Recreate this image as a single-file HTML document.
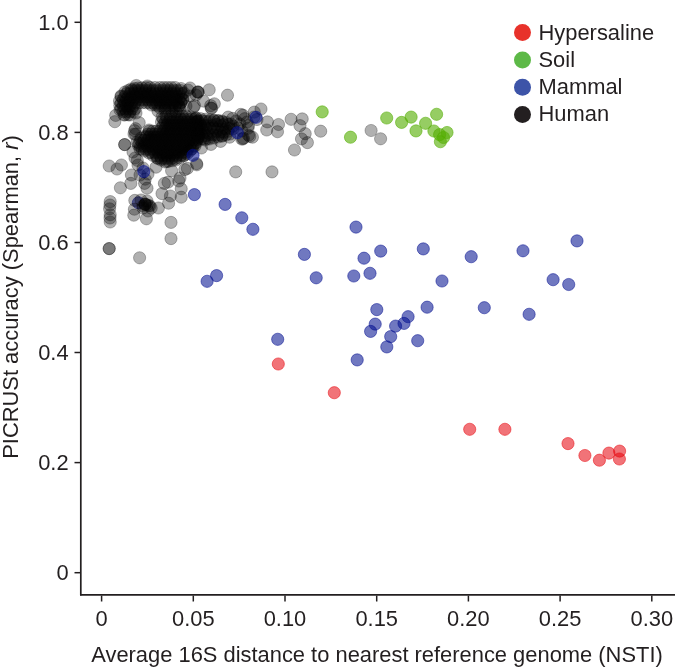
<!DOCTYPE html>
<html><head><meta charset="utf-8"><style>
html,body{margin:0;padding:0;background:#fff;}
svg{display:block;will-change:transform;}
.t{font-family:"Liberation Sans",sans-serif;font-size:21.9px;fill:#231f20;opacity:0.999;}
</style></head><body>
<svg width="675" height="667" viewBox="0 0 675 667">
<g fill="#000e8f" fill-opacity="0.56" stroke="#000e8f" stroke-opacity="0.56" stroke-width="0.9"><circle cx="138.4" cy="202.8" r="6.1"/></g><g fill="#000" fill-opacity="0.31" stroke="#000" stroke-opacity="0.31" stroke-width="0.9"><circle cx="139.6" cy="257.8" r="6.1"/><circle cx="109.2" cy="248.6" r="6.1"/><circle cx="109.2" cy="248.6" r="6.1"/><circle cx="171.0" cy="222.4" r="6.1"/><circle cx="171.0" cy="238.6" r="6.1"/><circle cx="110.2" cy="201.6" r="6.1"/><circle cx="109.6" cy="208.8" r="6.1"/><circle cx="110.2" cy="214.8" r="6.1"/><circle cx="110.2" cy="222.0" r="6.1"/><circle cx="110.0" cy="205.0" r="6.1"/><circle cx="110.0" cy="218.0" r="6.1"/><circle cx="109.2" cy="166.0" r="6.1"/><circle cx="121.4" cy="165.0" r="6.1"/><circle cx="117.0" cy="169.0" r="6.1"/><circle cx="114.8" cy="121.7" r="6.1"/><circle cx="115.7" cy="115.4" r="6.1"/><circle cx="124.7" cy="144.6" r="6.1"/><circle cx="124.7" cy="144.6" r="6.1"/><circle cx="135.5" cy="134.3" r="6.1"/><circle cx="134.6" cy="130.7" r="6.1"/><circle cx="137.3" cy="160.4" r="6.1"/><circle cx="131.4" cy="175.0" r="6.1"/><circle cx="130.8" cy="183.4" r="6.1"/><circle cx="120.4" cy="187.8" r="6.1"/><circle cx="144.6" cy="183.4" r="6.1"/><circle cx="147.0" cy="188.2" r="6.1"/><circle cx="145.2" cy="179.2" r="6.1"/><circle cx="164.4" cy="183.4" r="6.1"/><circle cx="168.0" cy="182.2" r="6.1"/><circle cx="162.0" cy="193.6" r="6.1"/><circle cx="170.4" cy="196.0" r="6.1"/><circle cx="181.2" cy="197.2" r="6.1"/><circle cx="181.2" cy="188.8" r="6.1"/><circle cx="178.8" cy="181.0" r="6.1"/><circle cx="180.0" cy="178.0" r="6.1"/><circle cx="168.6" cy="203.2" r="6.1"/><circle cx="158.4" cy="208.0" r="6.1"/><circle cx="171.6" cy="170.8" r="6.1"/><circle cx="156.0" cy="167.2" r="6.1"/><circle cx="184.8" cy="169.6" r="6.1"/><circle cx="196.8" cy="164.8" r="6.1"/><circle cx="145.2" cy="204.4" r="6.1"/><circle cx="145.2" cy="204.4" r="6.1"/><circle cx="147.0" cy="205.0" r="6.1"/><circle cx="148.8" cy="205.6" r="6.1"/><circle cx="134.4" cy="209.2" r="6.1"/><circle cx="133.8" cy="215.2" r="6.1"/><circle cx="146.4" cy="218.8" r="6.1"/><circle cx="151.2" cy="208.0" r="6.1"/><circle cx="134.8" cy="200.4" r="6.1"/><circle cx="196.6" cy="163.6" r="6.1"/><circle cx="187.4" cy="168.4" r="6.1"/><circle cx="201.4" cy="148.0" r="6.1"/><circle cx="211.0" cy="144.4" r="6.1"/><circle cx="220.6" cy="141.4" r="6.1"/><circle cx="229.6" cy="137.2" r="6.1"/><circle cx="242.8" cy="139.0" r="6.1"/><circle cx="252.4" cy="137.2" r="6.1"/><circle cx="235.7" cy="171.9" r="6.1"/><circle cx="272.0" cy="171.9" r="6.1"/><circle cx="261.0" cy="109.0" r="6.1"/><circle cx="254.3" cy="112.1" r="6.1"/><circle cx="243.0" cy="115.2" r="6.1"/><circle cx="232.7" cy="118.4" r="6.1"/><circle cx="247.1" cy="122.0" r="6.1"/><circle cx="248.0" cy="128.3" r="6.1"/><circle cx="249.8" cy="136.4" r="6.1"/><circle cx="243.5" cy="138.2" r="6.1"/><circle cx="320.7" cy="131.2" r="6.1"/><circle cx="291.1" cy="119.3" r="6.1"/><circle cx="302.2" cy="118.9" r="6.1"/><circle cx="300.0" cy="125.6" r="6.1"/><circle cx="305.2" cy="133.7" r="6.1"/><circle cx="301.5" cy="138.9" r="6.1"/><circle cx="307.4" cy="142.6" r="6.1"/><circle cx="294.5" cy="150.0" r="6.1"/><circle cx="371.1" cy="130.5" r="6.1"/><circle cx="380.6" cy="138.8" r="6.1"/><circle cx="209.2" cy="89.8" r="6.1"/><circle cx="227.5" cy="95.2" r="6.1"/><circle cx="198.1" cy="92.1" r="6.1"/><circle cx="198.1" cy="92.1" r="6.1"/><circle cx="197.6" cy="92.0" r="6.1"/><circle cx="190.0" cy="88.0" r="6.1"/><circle cx="210.7" cy="105.6" r="6.1"/><circle cx="214.3" cy="103.8" r="6.1"/><circle cx="211.6" cy="108.3" r="6.1"/><circle cx="194.5" cy="105.6" r="6.1"/><circle cx="203.5" cy="101.1" r="6.1"/><circle cx="193.5" cy="107.2" r="6.1"/><circle cx="211.1" cy="108.1" r="6.1"/><circle cx="240.8" cy="114.4" r="6.1"/><circle cx="228.2" cy="117.1" r="6.1"/><circle cx="136.3" cy="85.5" r="6.1"/><circle cx="147.4" cy="86.0" r="6.1"/><circle cx="188.0" cy="90.0" r="6.1"/><circle cx="190.0" cy="96.0" r="6.1"/><circle cx="244.7" cy="118.7" r="6.1"/><circle cx="248.5" cy="125.5" r="6.1"/><circle cx="248.5" cy="135.2" r="6.1"/><circle cx="241.7" cy="139.0" r="6.1"/><circle cx="238.0" cy="128.0" r="6.1"/><circle cx="240.0" cy="124.0" r="6.1"/><circle cx="236.0" cy="121.0" r="6.1"/><circle cx="242.0" cy="131.0" r="6.1"/><circle cx="233.0" cy="126.0" r="6.1"/><circle cx="254.0" cy="117.0" r="6.1"/><circle cx="257.0" cy="119.5" r="6.1"/><circle cx="139.2" cy="122.7" r="6.1"/><circle cx="134.0" cy="134.0" r="6.1"/><circle cx="135.5" cy="128.7" r="6.1"/><circle cx="138.0" cy="165.0" r="6.1"/><circle cx="143.0" cy="168.0" r="6.1"/><circle cx="148.0" cy="174.0" r="6.1"/><circle cx="140.0" cy="175.0" r="6.1"/><circle cx="135.0" cy="158.0" r="6.1"/><circle cx="133.0" cy="152.0" r="6.1"/><circle cx="145.0" cy="204.0" r="6.1"/><circle cx="143.0" cy="206.0" r="6.1"/><circle cx="158.0" cy="111.0" r="6.1"/><circle cx="165.0" cy="110.0" r="6.1"/><circle cx="172.0" cy="111.0" r="6.1"/><circle cx="180.0" cy="109.0" r="6.1"/><circle cx="186.0" cy="106.0" r="6.1"/><circle cx="176.0" cy="112.0" r="6.1"/><circle cx="267.4" cy="121.9" r="6.1"/><circle cx="266.7" cy="130.0" r="6.1"/><circle cx="278.5" cy="124.5" r="6.1"/><circle cx="277.5" cy="131.7" r="6.1"/><circle cx="196.0" cy="95.0" r="6.1"/><circle cx="147.0" cy="201.0" r="6.1"/><circle cx="143.0" cy="208.0" r="6.1"/><circle cx="150.0" cy="206.0" r="6.1"/><circle cx="141.0" cy="200.0" r="6.1"/><circle cx="148.0" cy="211.0" r="6.1"/><circle cx="128.2" cy="90.5" r="6.1"/><circle cx="131.8" cy="90.5" r="6.1"/><circle cx="135.2" cy="90.5" r="6.1"/><circle cx="138.8" cy="90.5" r="6.1"/><circle cx="142.2" cy="90.5" r="6.1"/><circle cx="145.8" cy="90.5" r="6.1"/><circle cx="149.2" cy="90.5" r="6.1"/><circle cx="152.8" cy="90.5" r="6.1"/><circle cx="156.2" cy="90.5" r="6.1"/><circle cx="159.8" cy="90.5" r="6.1"/><circle cx="163.2" cy="90.5" r="6.1"/><circle cx="166.8" cy="90.5" r="6.1"/><circle cx="170.2" cy="90.5" r="6.1"/><circle cx="173.8" cy="90.5" r="6.1"/><circle cx="177.2" cy="90.5" r="6.1"/><circle cx="180.8" cy="90.5" r="6.1"/><circle cx="126.5" cy="93.6" r="6.1"/><circle cx="130.0" cy="93.6" r="6.1"/><circle cx="133.5" cy="93.6" r="6.1"/><circle cx="137.0" cy="93.6" r="6.1"/><circle cx="140.5" cy="93.6" r="6.1"/><circle cx="144.0" cy="93.6" r="6.1"/><circle cx="147.5" cy="93.6" r="6.1"/><circle cx="151.0" cy="93.6" r="6.1"/><circle cx="154.5" cy="93.6" r="6.1"/><circle cx="158.0" cy="93.6" r="6.1"/><circle cx="161.5" cy="93.6" r="6.1"/><circle cx="165.0" cy="93.6" r="6.1"/><circle cx="168.5" cy="93.6" r="6.1"/><circle cx="172.0" cy="93.6" r="6.1"/><circle cx="175.5" cy="93.6" r="6.1"/><circle cx="179.0" cy="93.6" r="6.1"/><circle cx="182.5" cy="93.6" r="6.1"/><circle cx="121.2" cy="96.6" r="6.1"/><circle cx="124.8" cy="96.6" r="6.1"/><circle cx="128.2" cy="96.6" r="6.1"/><circle cx="131.8" cy="96.6" r="6.1"/><circle cx="135.2" cy="96.6" r="6.1"/><circle cx="138.8" cy="96.6" r="6.1"/><circle cx="142.2" cy="96.6" r="6.1"/><circle cx="145.8" cy="96.6" r="6.1"/><circle cx="149.2" cy="96.6" r="6.1"/><circle cx="152.8" cy="96.6" r="6.1"/><circle cx="156.2" cy="96.6" r="6.1"/><circle cx="159.8" cy="96.6" r="6.1"/><circle cx="163.2" cy="96.6" r="6.1"/><circle cx="166.8" cy="96.6" r="6.1"/><circle cx="170.2" cy="96.6" r="6.1"/><circle cx="173.8" cy="96.6" r="6.1"/><circle cx="177.2" cy="96.6" r="6.1"/><circle cx="180.8" cy="96.6" r="6.1"/><circle cx="123.0" cy="99.6" r="6.1"/><circle cx="126.5" cy="99.6" r="6.1"/><circle cx="130.0" cy="99.6" r="6.1"/><circle cx="133.5" cy="99.6" r="6.1"/><circle cx="137.0" cy="99.6" r="6.1"/><circle cx="140.5" cy="99.6" r="6.1"/><circle cx="144.0" cy="99.6" r="6.1"/><circle cx="147.5" cy="99.6" r="6.1"/><circle cx="151.0" cy="99.6" r="6.1"/><circle cx="154.5" cy="99.6" r="6.1"/><circle cx="158.0" cy="99.6" r="6.1"/><circle cx="161.5" cy="99.6" r="6.1"/><circle cx="165.0" cy="99.6" r="6.1"/><circle cx="168.5" cy="99.6" r="6.1"/><circle cx="172.0" cy="99.6" r="6.1"/><circle cx="175.5" cy="99.6" r="6.1"/><circle cx="179.0" cy="99.6" r="6.1"/><circle cx="182.5" cy="99.6" r="6.1"/><circle cx="121.2" cy="102.7" r="6.1"/><circle cx="124.8" cy="102.7" r="6.1"/><circle cx="128.2" cy="102.7" r="6.1"/><circle cx="131.8" cy="102.7" r="6.1"/><circle cx="135.2" cy="102.7" r="6.1"/><circle cx="138.8" cy="102.7" r="6.1"/><circle cx="142.2" cy="102.7" r="6.1"/><circle cx="145.8" cy="102.7" r="6.1"/><circle cx="149.2" cy="102.7" r="6.1"/><circle cx="152.8" cy="102.7" r="6.1"/><circle cx="156.2" cy="102.7" r="6.1"/><circle cx="159.8" cy="102.7" r="6.1"/><circle cx="163.2" cy="102.7" r="6.1"/><circle cx="166.8" cy="102.7" r="6.1"/><circle cx="170.2" cy="102.7" r="6.1"/><circle cx="173.8" cy="102.7" r="6.1"/><circle cx="177.2" cy="102.7" r="6.1"/><circle cx="180.8" cy="102.7" r="6.1"/><circle cx="123.0" cy="105.7" r="6.1"/><circle cx="126.5" cy="105.7" r="6.1"/><circle cx="130.0" cy="105.7" r="6.1"/><circle cx="133.5" cy="105.7" r="6.1"/><circle cx="158.0" cy="105.7" r="6.1"/><circle cx="161.5" cy="105.7" r="6.1"/><circle cx="165.0" cy="105.7" r="6.1"/><circle cx="168.5" cy="105.7" r="6.1"/><circle cx="172.0" cy="105.7" r="6.1"/><circle cx="175.5" cy="105.7" r="6.1"/><circle cx="179.0" cy="105.7" r="6.1"/><circle cx="121.2" cy="108.7" r="6.1"/><circle cx="124.8" cy="108.7" r="6.1"/><circle cx="128.2" cy="108.7" r="6.1"/><circle cx="131.8" cy="108.7" r="6.1"/><circle cx="135.2" cy="108.7" r="6.1"/><circle cx="123.0" cy="111.7" r="6.1"/><circle cx="126.5" cy="111.7" r="6.1"/><circle cx="130.0" cy="111.7" r="6.1"/><circle cx="133.5" cy="111.7" r="6.1"/><circle cx="124.8" cy="114.8" r="6.1"/><circle cx="128.2" cy="114.8" r="6.1"/><circle cx="119.5" cy="101.0" r="6.1"/><circle cx="121.0" cy="96.0" r="6.1"/><circle cx="125.0" cy="92.0" r="6.1"/><circle cx="131.0" cy="89.0" r="6.1"/><circle cx="134.5" cy="88.5" r="6.1"/><circle cx="138.0" cy="88.0" r="6.1"/><circle cx="142.0" cy="87.8" r="6.1"/><circle cx="146.0" cy="87.7" r="6.1"/><circle cx="150.0" cy="87.5" r="6.1"/><circle cx="155.0" cy="87.5" r="6.1"/><circle cx="160.0" cy="87.5" r="6.1"/><circle cx="163.8" cy="87.5" r="6.1"/><circle cx="167.5" cy="87.5" r="6.1"/><circle cx="171.2" cy="87.5" r="6.1"/><circle cx="175.0" cy="87.5" r="6.1"/><circle cx="181.0" cy="88.5" r="6.1"/><circle cx="184.0" cy="93.0" r="6.1"/><circle cx="183.0" cy="99.0" r="6.1"/><circle cx="181.0" cy="102.5" r="6.1"/><circle cx="179.0" cy="106.0" r="6.1"/><circle cx="174.5" cy="107.0" r="6.1"/><circle cx="170.0" cy="108.0" r="6.1"/><circle cx="165.0" cy="108.0" r="6.1"/><circle cx="160.0" cy="108.0" r="6.1"/><circle cx="155.0" cy="105.0" r="6.1"/><circle cx="151.5" cy="105.0" r="6.1"/><circle cx="136.0" cy="113.0" r="6.1"/><circle cx="130.0" cy="115.0" r="6.1"/><circle cx="124.0" cy="115.0" r="6.1"/><circle cx="120.0" cy="110.0" r="6.1"/><circle cx="119.8" cy="105.5" r="6.1"/><circle cx="163.2" cy="119.0" r="6.1"/><circle cx="166.8" cy="119.0" r="6.1"/><circle cx="170.2" cy="119.0" r="6.1"/><circle cx="173.8" cy="119.0" r="6.1"/><circle cx="177.2" cy="119.0" r="6.1"/><circle cx="180.8" cy="119.0" r="6.1"/><circle cx="184.2" cy="119.0" r="6.1"/><circle cx="187.8" cy="119.0" r="6.1"/><circle cx="191.2" cy="119.0" r="6.1"/><circle cx="194.8" cy="119.0" r="6.1"/><circle cx="161.5" cy="122.1" r="6.1"/><circle cx="165.0" cy="122.1" r="6.1"/><circle cx="168.5" cy="122.1" r="6.1"/><circle cx="172.0" cy="122.1" r="6.1"/><circle cx="175.5" cy="122.1" r="6.1"/><circle cx="179.0" cy="122.1" r="6.1"/><circle cx="182.5" cy="122.1" r="6.1"/><circle cx="186.0" cy="122.1" r="6.1"/><circle cx="189.5" cy="122.1" r="6.1"/><circle cx="193.0" cy="122.1" r="6.1"/><circle cx="196.5" cy="122.1" r="6.1"/><circle cx="163.2" cy="125.1" r="6.1"/><circle cx="166.8" cy="125.1" r="6.1"/><circle cx="170.2" cy="125.1" r="6.1"/><circle cx="173.8" cy="125.1" r="6.1"/><circle cx="177.2" cy="125.1" r="6.1"/><circle cx="180.8" cy="125.1" r="6.1"/><circle cx="184.2" cy="125.1" r="6.1"/><circle cx="187.8" cy="125.1" r="6.1"/><circle cx="191.2" cy="125.1" r="6.1"/><circle cx="194.8" cy="125.1" r="6.1"/><circle cx="198.2" cy="125.1" r="6.1"/><circle cx="161.5" cy="128.1" r="6.1"/><circle cx="165.0" cy="128.1" r="6.1"/><circle cx="168.5" cy="128.1" r="6.1"/><circle cx="172.0" cy="128.1" r="6.1"/><circle cx="175.5" cy="128.1" r="6.1"/><circle cx="179.0" cy="128.1" r="6.1"/><circle cx="182.5" cy="128.1" r="6.1"/><circle cx="186.0" cy="128.1" r="6.1"/><circle cx="189.5" cy="128.1" r="6.1"/><circle cx="193.0" cy="128.1" r="6.1"/><circle cx="196.5" cy="128.1" r="6.1"/><circle cx="149.2" cy="131.2" r="6.1"/><circle cx="152.8" cy="131.2" r="6.1"/><circle cx="156.2" cy="131.2" r="6.1"/><circle cx="159.8" cy="131.2" r="6.1"/><circle cx="163.2" cy="131.2" r="6.1"/><circle cx="166.8" cy="131.2" r="6.1"/><circle cx="170.2" cy="131.2" r="6.1"/><circle cx="173.8" cy="131.2" r="6.1"/><circle cx="177.2" cy="131.2" r="6.1"/><circle cx="180.8" cy="131.2" r="6.1"/><circle cx="184.2" cy="131.2" r="6.1"/><circle cx="187.8" cy="131.2" r="6.1"/><circle cx="191.2" cy="131.2" r="6.1"/><circle cx="194.8" cy="131.2" r="6.1"/><circle cx="198.2" cy="131.2" r="6.1"/><circle cx="147.5" cy="134.2" r="6.1"/><circle cx="151.0" cy="134.2" r="6.1"/><circle cx="154.5" cy="134.2" r="6.1"/><circle cx="158.0" cy="134.2" r="6.1"/><circle cx="161.5" cy="134.2" r="6.1"/><circle cx="165.0" cy="134.2" r="6.1"/><circle cx="168.5" cy="134.2" r="6.1"/><circle cx="172.0" cy="134.2" r="6.1"/><circle cx="175.5" cy="134.2" r="6.1"/><circle cx="179.0" cy="134.2" r="6.1"/><circle cx="182.5" cy="134.2" r="6.1"/><circle cx="186.0" cy="134.2" r="6.1"/><circle cx="189.5" cy="134.2" r="6.1"/><circle cx="193.0" cy="134.2" r="6.1"/><circle cx="196.5" cy="134.2" r="6.1"/><circle cx="145.8" cy="137.2" r="6.1"/><circle cx="149.2" cy="137.2" r="6.1"/><circle cx="152.8" cy="137.2" r="6.1"/><circle cx="156.2" cy="137.2" r="6.1"/><circle cx="159.8" cy="137.2" r="6.1"/><circle cx="163.2" cy="137.2" r="6.1"/><circle cx="166.8" cy="137.2" r="6.1"/><circle cx="170.2" cy="137.2" r="6.1"/><circle cx="173.8" cy="137.2" r="6.1"/><circle cx="177.2" cy="137.2" r="6.1"/><circle cx="180.8" cy="137.2" r="6.1"/><circle cx="184.2" cy="137.2" r="6.1"/><circle cx="187.8" cy="137.2" r="6.1"/><circle cx="191.2" cy="137.2" r="6.1"/><circle cx="194.8" cy="137.2" r="6.1"/><circle cx="198.2" cy="137.2" r="6.1"/><circle cx="140.5" cy="140.2" r="6.1"/><circle cx="144.0" cy="140.2" r="6.1"/><circle cx="147.5" cy="140.2" r="6.1"/><circle cx="151.0" cy="140.2" r="6.1"/><circle cx="154.5" cy="140.2" r="6.1"/><circle cx="158.0" cy="140.2" r="6.1"/><circle cx="161.5" cy="140.2" r="6.1"/><circle cx="165.0" cy="140.2" r="6.1"/><circle cx="168.5" cy="140.2" r="6.1"/><circle cx="172.0" cy="140.2" r="6.1"/><circle cx="175.5" cy="140.2" r="6.1"/><circle cx="179.0" cy="140.2" r="6.1"/><circle cx="182.5" cy="140.2" r="6.1"/><circle cx="186.0" cy="140.2" r="6.1"/><circle cx="189.5" cy="140.2" r="6.1"/><circle cx="193.0" cy="140.2" r="6.1"/><circle cx="196.5" cy="140.2" r="6.1"/><circle cx="138.8" cy="143.3" r="6.1"/><circle cx="142.2" cy="143.3" r="6.1"/><circle cx="145.8" cy="143.3" r="6.1"/><circle cx="149.2" cy="143.3" r="6.1"/><circle cx="152.8" cy="143.3" r="6.1"/><circle cx="156.2" cy="143.3" r="6.1"/><circle cx="159.8" cy="143.3" r="6.1"/><circle cx="163.2" cy="143.3" r="6.1"/><circle cx="166.8" cy="143.3" r="6.1"/><circle cx="170.2" cy="143.3" r="6.1"/><circle cx="173.8" cy="143.3" r="6.1"/><circle cx="177.2" cy="143.3" r="6.1"/><circle cx="180.8" cy="143.3" r="6.1"/><circle cx="184.2" cy="143.3" r="6.1"/><circle cx="187.8" cy="143.3" r="6.1"/><circle cx="191.2" cy="143.3" r="6.1"/><circle cx="194.8" cy="143.3" r="6.1"/><circle cx="140.5" cy="146.3" r="6.1"/><circle cx="144.0" cy="146.3" r="6.1"/><circle cx="147.5" cy="146.3" r="6.1"/><circle cx="151.0" cy="146.3" r="6.1"/><circle cx="154.5" cy="146.3" r="6.1"/><circle cx="158.0" cy="146.3" r="6.1"/><circle cx="161.5" cy="146.3" r="6.1"/><circle cx="165.0" cy="146.3" r="6.1"/><circle cx="168.5" cy="146.3" r="6.1"/><circle cx="172.0" cy="146.3" r="6.1"/><circle cx="175.5" cy="146.3" r="6.1"/><circle cx="179.0" cy="146.3" r="6.1"/><circle cx="182.5" cy="146.3" r="6.1"/><circle cx="186.0" cy="146.3" r="6.1"/><circle cx="189.5" cy="146.3" r="6.1"/><circle cx="193.0" cy="146.3" r="6.1"/><circle cx="142.2" cy="149.3" r="6.1"/><circle cx="145.8" cy="149.3" r="6.1"/><circle cx="149.2" cy="149.3" r="6.1"/><circle cx="152.8" cy="149.3" r="6.1"/><circle cx="156.2" cy="149.3" r="6.1"/><circle cx="159.8" cy="149.3" r="6.1"/><circle cx="163.2" cy="149.3" r="6.1"/><circle cx="166.8" cy="149.3" r="6.1"/><circle cx="170.2" cy="149.3" r="6.1"/><circle cx="173.8" cy="149.3" r="6.1"/><circle cx="177.2" cy="149.3" r="6.1"/><circle cx="180.8" cy="149.3" r="6.1"/><circle cx="184.2" cy="149.3" r="6.1"/><circle cx="187.8" cy="149.3" r="6.1"/><circle cx="191.2" cy="149.3" r="6.1"/><circle cx="151.0" cy="152.4" r="6.1"/><circle cx="154.5" cy="152.4" r="6.1"/><circle cx="158.0" cy="152.4" r="6.1"/><circle cx="161.5" cy="152.4" r="6.1"/><circle cx="165.0" cy="152.4" r="6.1"/><circle cx="168.5" cy="152.4" r="6.1"/><circle cx="172.0" cy="152.4" r="6.1"/><circle cx="175.5" cy="152.4" r="6.1"/><circle cx="179.0" cy="152.4" r="6.1"/><circle cx="182.5" cy="152.4" r="6.1"/><circle cx="186.0" cy="152.4" r="6.1"/><circle cx="156.2" cy="155.4" r="6.1"/><circle cx="159.8" cy="155.4" r="6.1"/><circle cx="163.2" cy="155.4" r="6.1"/><circle cx="166.8" cy="155.4" r="6.1"/><circle cx="170.2" cy="155.4" r="6.1"/><circle cx="173.8" cy="155.4" r="6.1"/><circle cx="177.2" cy="155.4" r="6.1"/><circle cx="180.8" cy="155.4" r="6.1"/><circle cx="184.2" cy="155.4" r="6.1"/><circle cx="158.0" cy="158.4" r="6.1"/><circle cx="161.5" cy="158.4" r="6.1"/><circle cx="165.0" cy="158.4" r="6.1"/><circle cx="168.5" cy="158.4" r="6.1"/><circle cx="172.0" cy="158.4" r="6.1"/><circle cx="175.5" cy="158.4" r="6.1"/><circle cx="166.8" cy="161.5" r="6.1"/><circle cx="146.0" cy="136.0" r="6.1"/><circle cx="149.0" cy="130.0" r="6.1"/><circle cx="162.0" cy="117.0" r="6.1"/><circle cx="166.0" cy="116.0" r="6.1"/><circle cx="170.5" cy="116.0" r="6.1"/><circle cx="175.0" cy="116.0" r="6.1"/><circle cx="178.7" cy="116.0" r="6.1"/><circle cx="182.3" cy="116.0" r="6.1"/><circle cx="186.0" cy="116.0" r="6.1"/><circle cx="191.0" cy="117.0" r="6.1"/><circle cx="196.0" cy="118.0" r="6.1"/><circle cx="198.0" cy="121.0" r="6.1"/><circle cx="200.0" cy="124.0" r="6.1"/><circle cx="199.7" cy="128.0" r="6.1"/><circle cx="199.3" cy="132.0" r="6.1"/><circle cx="199.0" cy="136.0" r="6.1"/><circle cx="197.7" cy="139.3" r="6.1"/><circle cx="196.3" cy="142.7" r="6.1"/><circle cx="195.0" cy="146.0" r="6.1"/><circle cx="192.3" cy="148.7" r="6.1"/><circle cx="189.7" cy="151.3" r="6.1"/><circle cx="187.0" cy="154.0" r="6.1"/><circle cx="183.3" cy="156.0" r="6.1"/><circle cx="179.7" cy="158.0" r="6.1"/><circle cx="176.0" cy="160.0" r="6.1"/><circle cx="172.3" cy="160.7" r="6.1"/><circle cx="168.7" cy="161.3" r="6.1"/><circle cx="165.0" cy="162.0" r="6.1"/><circle cx="161.0" cy="160.0" r="6.1"/><circle cx="157.0" cy="158.0" r="6.1"/><circle cx="153.0" cy="155.5" r="6.1"/><circle cx="149.0" cy="153.0" r="6.1"/><circle cx="144.5" cy="151.0" r="6.1"/><circle cx="140.0" cy="149.0" r="6.1"/><circle cx="138.5" cy="145.5" r="6.1"/><circle cx="137.0" cy="142.0" r="6.1"/><circle cx="141.0" cy="138.0" r="6.1"/><circle cx="197.9" cy="121.0" r="6.1"/><circle cx="202.0" cy="120.8" r="6.1"/><circle cx="205.4" cy="121.4" r="6.1"/><circle cx="209.3" cy="121.4" r="6.1"/><circle cx="214.0" cy="120.7" r="6.1"/><circle cx="218.2" cy="120.8" r="6.1"/><circle cx="222.4" cy="121.9" r="6.1"/><circle cx="200.6" cy="125.7" r="6.1"/><circle cx="204.4" cy="125.4" r="6.1"/><circle cx="207.5" cy="125.7" r="6.1"/><circle cx="212.0" cy="125.7" r="6.1"/><circle cx="216.7" cy="124.4" r="6.1"/><circle cx="220.5" cy="125.6" r="6.1"/><circle cx="223.3" cy="124.7" r="6.1"/><circle cx="228.4" cy="124.4" r="6.1"/><circle cx="198.5" cy="127.8" r="6.1"/><circle cx="202.0" cy="129.1" r="6.1"/><circle cx="205.5" cy="128.0" r="6.1"/><circle cx="210.0" cy="128.1" r="6.1"/><circle cx="213.3" cy="127.9" r="6.1"/><circle cx="217.5" cy="129.1" r="6.1"/><circle cx="222.3" cy="129.0" r="6.1"/><circle cx="225.5" cy="128.8" r="6.1"/><circle cx="229.4" cy="128.4" r="6.1"/><circle cx="200.6" cy="131.9" r="6.1"/><circle cx="204.1" cy="132.5" r="6.1"/><circle cx="207.4" cy="132.6" r="6.1"/><circle cx="212.2" cy="131.7" r="6.1"/><circle cx="216.5" cy="131.5" r="6.1"/><circle cx="220.8" cy="132.0" r="6.1"/><circle cx="223.8" cy="132.3" r="6.1"/><circle cx="227.9" cy="131.3" r="6.1"/><circle cx="198.5" cy="134.9" r="6.1"/><circle cx="202.2" cy="136.1" r="6.1"/><circle cx="206.1" cy="135.6" r="6.1"/><circle cx="209.7" cy="134.5" r="6.1"/><circle cx="213.3" cy="134.8" r="6.1"/><circle cx="218.2" cy="135.2" r="6.1"/><circle cx="222.0" cy="136.0" r="6.1"/><circle cx="203.6" cy="138.9" r="6.1"/><circle cx="208.1" cy="138.3" r="6.1"/><circle cx="196.0" cy="118.0" r="6.1"/><circle cx="200.7" cy="118.7" r="6.1"/><circle cx="205.3" cy="119.3" r="6.1"/><circle cx="210.0" cy="120.0" r="6.1"/><circle cx="214.0" cy="120.3" r="6.1"/><circle cx="218.0" cy="120.7" r="6.1"/><circle cx="222.0" cy="121.0" r="6.1"/><circle cx="226.5" cy="122.5" r="6.1"/><circle cx="231.0" cy="124.0" r="6.1"/><circle cx="233.0" cy="129.0" r="6.1"/><circle cx="230.0" cy="134.0" r="6.1"/><circle cx="226.0" cy="135.0" r="6.1"/><circle cx="222.0" cy="136.0" r="6.1"/><circle cx="218.0" cy="137.0" r="6.1"/><circle cx="213.7" cy="138.0" r="6.1"/><circle cx="209.3" cy="139.0" r="6.1"/><circle cx="205.0" cy="140.0" r="6.1"/><circle cx="201.0" cy="139.0" r="6.1"/><circle cx="197.0" cy="138.0" r="6.1"/><circle cx="196.8" cy="134.0" r="6.1"/><circle cx="196.6" cy="130.0" r="6.1"/><circle cx="196.4" cy="126.0" r="6.1"/><circle cx="196.2" cy="122.0" r="6.1"/></g><g fill="#000e8f" fill-opacity="0.56" stroke="#000e8f" stroke-opacity="0.56" stroke-width="0.9"><circle cx="194.4" cy="194.6" r="6.1"/><circle cx="225.1" cy="204.4" r="6.1"/><circle cx="241.8" cy="217.8" r="6.1"/><circle cx="252.9" cy="229.3" r="6.1"/><circle cx="304.4" cy="254.4" r="6.1"/><circle cx="316.2" cy="277.8" r="6.1"/><circle cx="216.6" cy="275.6" r="6.1"/><circle cx="207.1" cy="281.3" r="6.1"/><circle cx="277.7" cy="339.3" r="6.1"/><circle cx="356.0" cy="227.1" r="6.1"/><circle cx="380.7" cy="251.1" r="6.1"/><circle cx="364.0" cy="258.2" r="6.1"/><circle cx="353.8" cy="276.0" r="6.1"/><circle cx="370.0" cy="273.3" r="6.1"/><circle cx="423.3" cy="248.9" r="6.1"/><circle cx="471.2" cy="256.7" r="6.1"/><circle cx="442.0" cy="281.0" r="6.1"/><circle cx="376.8" cy="309.6" r="6.1"/><circle cx="427.1" cy="307.2" r="6.1"/><circle cx="375.2" cy="324.1" r="6.1"/><circle cx="370.6" cy="331.4" r="6.1"/><circle cx="408.1" cy="316.7" r="6.1"/><circle cx="404.0" cy="323.4" r="6.1"/><circle cx="395.6" cy="326.1" r="6.1"/><circle cx="390.7" cy="336.6" r="6.1"/><circle cx="386.8" cy="346.9" r="6.1"/><circle cx="417.7" cy="340.7" r="6.1"/><circle cx="357.2" cy="359.9" r="6.1"/><circle cx="523.0" cy="250.8" r="6.1"/><circle cx="577.0" cy="240.9" r="6.1"/><circle cx="553.1" cy="279.7" r="6.1"/><circle cx="568.7" cy="284.5" r="6.1"/><circle cx="484.3" cy="307.7" r="6.1"/><circle cx="529.1" cy="314.3" r="6.1"/><circle cx="256.0" cy="117.3" r="6.1"/><circle cx="237.3" cy="132.7" r="6.1"/><circle cx="193.0" cy="155.3" r="6.1"/><circle cx="143.8" cy="171.6" r="6.1"/></g><g fill="#53ad00" fill-opacity="0.61" stroke="#53ad00" stroke-opacity="0.61" stroke-width="0.9"><circle cx="322.2" cy="111.9" r="6.1"/><circle cx="350.5" cy="137.2" r="6.1"/><circle cx="386.7" cy="118.0" r="6.1"/><circle cx="401.6" cy="122.4" r="6.1"/><circle cx="411.1" cy="117.1" r="6.1"/><circle cx="416.0" cy="130.9" r="6.1"/><circle cx="425.6" cy="123.3" r="6.1"/><circle cx="436.6" cy="114.3" r="6.1"/><circle cx="433.9" cy="131.0" r="6.1"/><circle cx="447.0" cy="132.5" r="6.1"/><circle cx="440.4" cy="141.7" r="6.1"/><circle cx="439.6" cy="134.6" r="6.1"/><circle cx="443.5" cy="137.5" r="6.1"/></g><g fill="#e6000a" fill-opacity="0.55" stroke="#e6000a" stroke-opacity="0.55" stroke-width="0.9"><circle cx="278.3" cy="364.0" r="6.1"/><circle cx="334.3" cy="392.7" r="6.1"/><circle cx="469.7" cy="429.3" r="6.1"/><circle cx="504.9" cy="429.3" r="6.1"/><circle cx="568.0" cy="443.6" r="6.1"/><circle cx="584.9" cy="455.5" r="6.1"/><circle cx="599.4" cy="460.2" r="6.1"/><circle cx="608.9" cy="453.1" r="6.1"/><circle cx="619.6" cy="451.1" r="6.1"/><circle cx="619.4" cy="459.0" r="6.1"/></g>
<line x1="80.8" y1="0" x2="80.8" y2="595.6" stroke="#231f20" stroke-width="1.7"/><line x1="80" y1="594.8" x2="675" y2="594.8" stroke="#231f20" stroke-width="1.7"/><line x1="74.5" y1="22.3" x2="80" y2="22.3" stroke="#231f20" stroke-width="1.5"/><text x="68.6" y="29.9" text-anchor="end" class="t">1.0</text><line x1="74.5" y1="132.4" x2="80" y2="132.4" stroke="#231f20" stroke-width="1.5"/><text x="68.6" y="140.0" text-anchor="end" class="t">0.8</text><line x1="74.5" y1="242.5" x2="80" y2="242.5" stroke="#231f20" stroke-width="1.5"/><text x="68.6" y="250.1" text-anchor="end" class="t">0.6</text><line x1="74.5" y1="352.5" x2="80" y2="352.5" stroke="#231f20" stroke-width="1.5"/><text x="68.6" y="360.1" text-anchor="end" class="t">0.4</text><line x1="74.5" y1="462.6" x2="80" y2="462.6" stroke="#231f20" stroke-width="1.5"/><text x="68.6" y="470.2" text-anchor="end" class="t">0.2</text><line x1="74.5" y1="572.7" x2="80" y2="572.7" stroke="#231f20" stroke-width="1.5"/><text x="68.6" y="580.3" text-anchor="end" class="t">0</text><line x1="101.6" y1="595.6" x2="101.6" y2="601.5" stroke="#231f20" stroke-width="1.5"/><text x="101.6" y="626.3" text-anchor="middle" class="t">0</text><line x1="193.3" y1="595.6" x2="193.3" y2="601.5" stroke="#231f20" stroke-width="1.5"/><text x="193.3" y="626.3" text-anchor="middle" class="t">0.05</text><line x1="285.0" y1="595.6" x2="285.0" y2="601.5" stroke="#231f20" stroke-width="1.5"/><text x="285.0" y="626.3" text-anchor="middle" class="t">0.10</text><line x1="376.7" y1="595.6" x2="376.7" y2="601.5" stroke="#231f20" stroke-width="1.5"/><text x="376.7" y="626.3" text-anchor="middle" class="t">0.15</text><line x1="468.4" y1="595.6" x2="468.4" y2="601.5" stroke="#231f20" stroke-width="1.5"/><text x="468.4" y="626.3" text-anchor="middle" class="t">0.20</text><line x1="560.1" y1="595.6" x2="560.1" y2="601.5" stroke="#231f20" stroke-width="1.5"/><text x="560.1" y="626.3" text-anchor="middle" class="t">0.25</text><line x1="651.8" y1="595.6" x2="651.8" y2="601.5" stroke="#231f20" stroke-width="1.5"/><text x="651.8" y="626.3" text-anchor="middle" class="t">0.30</text><text x="377" y="661.8" text-anchor="middle" class="t">Average 16S distance to nearest reference genome (NSTI)</text><text transform="translate(18,297) rotate(-90)" text-anchor="middle" class="t">PICRUSt accuracy (Spearman, <tspan font-style="italic">r</tspan>)</text><circle cx="522.5" cy="32.6" r="8.5" fill="#e8322b"/><text x="538.5" y="39.5" class="t">Hypersaline</text><circle cx="522.5" cy="59.9" r="8.5" fill="#5db947"/><text x="538.5" y="66.8" class="t">Soil</text><circle cx="522.5" cy="87.2" r="8.5" fill="#3d54a8"/><text x="538.5" y="94.1" class="t">Mammal</text><circle cx="522.5" cy="114.5" r="8.5" fill="#231f20"/><text x="538.5" y="121.4" class="t">Human</text>
</svg></body></html>
